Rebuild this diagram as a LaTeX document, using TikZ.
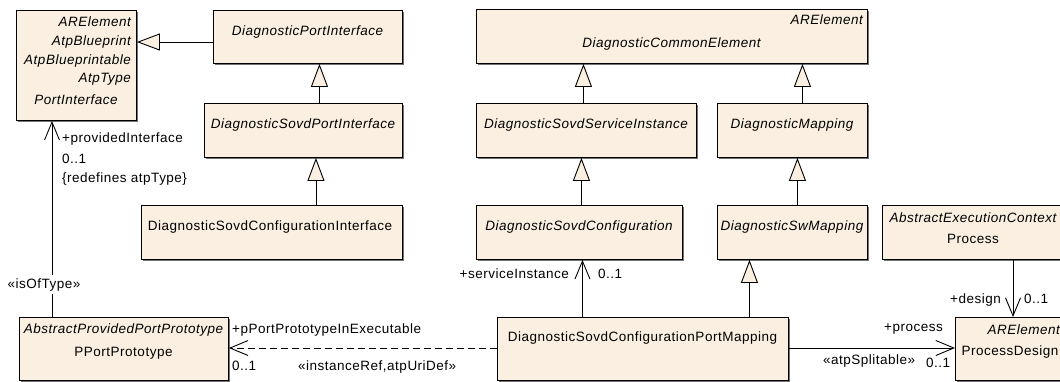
\documentclass[tikz,border=0pt]{standalone}
\usepackage{fontspec}
\newfontfamily\uml{Liberation Sans}[LetterSpace=3.7]
\usetikzlibrary{arrows.meta,shadows}
\definecolor{clsfill}{RGB}{250,239,224}
\tikzset{
  cls/.style={draw=black, fill=clsfill, line width=0.9pt, inner sep=0pt, anchor=north west,
    drop shadow={shadow xshift=1.3pt, shadow yshift=-1.3pt, fill=black!55, opacity=1}},
  t/.style={font=\uml\fontsize{13.5}{15}\selectfont, inner sep=0pt, anchor=mid},
  ti/.style={t, font=\uml\fontsize{13.5}{15}\selectfont\itshape},
  gen/.style={line width=0.9pt, -{Triangle[length=23pt,width=17pt,fill=clsfill]}},
  assoc/.style={line width=0.9pt, -{Straight Barb[length=18pt,width=15pt]}},
  dep/.style={assoc, dash pattern=on 7pt off 4pt},
}
\begin{document}
\begin{tikzpicture}[x=1pt,y=-1pt]
\useasboundingbox (0,0) rectangle (1060,381);
\fill[white] (0,0) rectangle (1060,381);
\clip (0,0) rectangle (1060,381);

% classes
\node[cls, minimum width=120pt, minimum height=110pt] (pi) at (16,10) {};
\node[ti, anchor=mid east] (pi1) at (131,24) {ARElement};
\node[ti, anchor=mid east] (pi2) at (131,43) {AtpBlueprint};
\node[ti, anchor=mid east] (pi3) at (131,62) {AtpBlueprintable};
\node[ti, anchor=mid east] (pi4) at (131,80) {AtpType};
\node[ti] (pi5) at (76,102) {PortInterface};

\node[cls, minimum width=189pt, minimum height=53pt] (dpi) at (213,10) {};
\node[ti] (dpit) at (307.5,33) {DiagnosticPortInterface};

\node[cls, minimum width=198pt, minimum height=54pt] (dspi) at (204,103) {};
\node[ti] (dspit) at (303,126) {DiagnosticSovdPortInterface};

\node[cls, minimum width=261pt, minimum height=54pt] (dsci) at (141,205) {};
\node[t] (dscit) at (270,228) {DiagnosticSovdConfigurationInterface};

\node[cls, minimum width=209pt, minimum height=63pt] (ppp) at (19,317) {};
\node[ti] (ppp1) at (123.5,331) {AbstractProvidedPortPrototype};
\node[t] (ppp2) at (123.5,354) {PPortPrototype};

\node[cls, minimum width=391pt, minimum height=54pt] (dce) at (476,9) {};
\node[ti, anchor=mid east] (dce1) at (863,22) {ARElement};
\node[ti] (dce2) at (671.5,45) {DiagnosticCommonElement};

\node[cls, minimum width=220pt, minimum height=54pt] (dssi) at (476,103) {};
\node[ti] (dssit) at (586,126) {DiagnosticSovdServiceInstance};

\node[cls, minimum width=150pt, minimum height=54pt] (dm) at (717,103) {};
\node[ti] (dmt) at (792,126) {DiagnosticMapping};

\node[cls, minimum width=206pt, minimum height=54pt] (dsc) at (476,205) {};
\node[ti] (dsct) at (579,228) {DiagnosticSovdConfiguration};

\node[cls, minimum width=150pt, minimum height=54pt] (dsw) at (717,205) {};
\node[ti] (dswt) at (792,228) {DiagnosticSwMapping};

\node[cls, minimum width=182pt, minimum height=54pt] (proc) at (882,205) {};
\node[ti] (proc1) at (973,220) {AbstractExecutionContext};
\node[t] (proc2) at (973,241) {Process};

\node[cls, minimum width=110pt, minimum height=63pt] (pd) at (955,317) {};
\node[ti, anchor=mid east] (pd1) at (1060,332) {ARElement};
\node[t] (pd2) at (1010,353) {ProcessDesign};

\node[cls, minimum width=291pt, minimum height=63pt] (dscpm) at (497,317) {};
\node[t] (dscpmt) at (642.5,339) {DiagnosticSovdConfigurationPortMapping};

% generalizations
\draw[gen] ([yshift=-32pt]dpi.north west) -- ([yshift=-32pt]dpi.north west -| pi.east);
\draw[gen] ([xshift=16pt]dspi.north) -- ([xshift=16pt]dspi.north |- dpi.south);
\draw[gen] ([xshift=44pt]dsci.north) -- ([xshift=44pt]dsci.north |- dspi.south);
\draw[gen] ([xshift=-3pt]dssi.north) -- ([xshift=-3pt]dssi.north |- dce.south);
\draw[gen] ([xshift=10pt]dm.north) -- ([xshift=10pt]dm.north |- dce.south);
\draw[gen] ([xshift=2pt]dsc.north) -- ([xshift=2pt]dsc.north |- dssi.south);
\draw[gen] ([xshift=5pt]dsw.north) -- ([xshift=5pt]dsw.north |- dm.south);
\draw[gen] ([xshift=106.5pt]dscpm.north) -- ([xshift=106.5pt]dscpm.north |- dsw.south);

% associations
\draw[assoc] ([xshift=33pt]ppp.north west) -- ([xshift=33pt]ppp.north west |- pi.south);
\draw[assoc] ([xshift=-60.5pt]dscpm.north) -- ([xshift=-60.5pt]dscpm.north |- dsc.south);
\draw[dep] ([yshift=-31pt]dscpm.north west) -- ([yshift=-31pt]dscpm.north west -| ppp.east);
\draw[assoc] ([yshift=-31pt]dscpm.north east) -- ([yshift=-31pt]dscpm.north east -| pd.west);
\draw[assoc] ([xshift=131pt]proc.south west) -- ([xshift=131pt]proc.south west |- pd.north);

% labels
\node[t, anchor=mid west] (l1) at (62,140) {+providedInterface};
\node[t, anchor=mid west] (l2) at (62,161) {0..1};
\node[t, anchor=mid west] (l3) at (62,180) {\{redefines atpType\}};
\node[t, fill=white, inner xsep=1pt, inner ysep=3pt] (l4) at (44,286) {«isOfType»};
\node[t, anchor=mid west] (l5) at (232,331) {+pPortPrototypeInExecutable};
\node[t, anchor=mid west] (l6) at (232,368) {0..1};
\node[t, anchor=mid west] (l7) at (298,368) {«instanceRef,atpUriDef»};
\node[t, anchor=mid east] (l8) at (569,276) {+serviceInstance};
\node[t, anchor=mid west] (l9) at (598,276) {0..1};
\node[t, anchor=mid east] (l10) at (943,329) {+process};
\node[t, anchor=mid west] (l11) at (823,362) {«atpSplitable»};
\node[t, anchor=mid west] (l12) at (926,365) {0..1};
\node[t, anchor=mid east] (l13) at (1001,301) {+design};
\node[t, anchor=mid west] (l14) at (1024,301) {0..1};
\end{tikzpicture}
\end{document}
